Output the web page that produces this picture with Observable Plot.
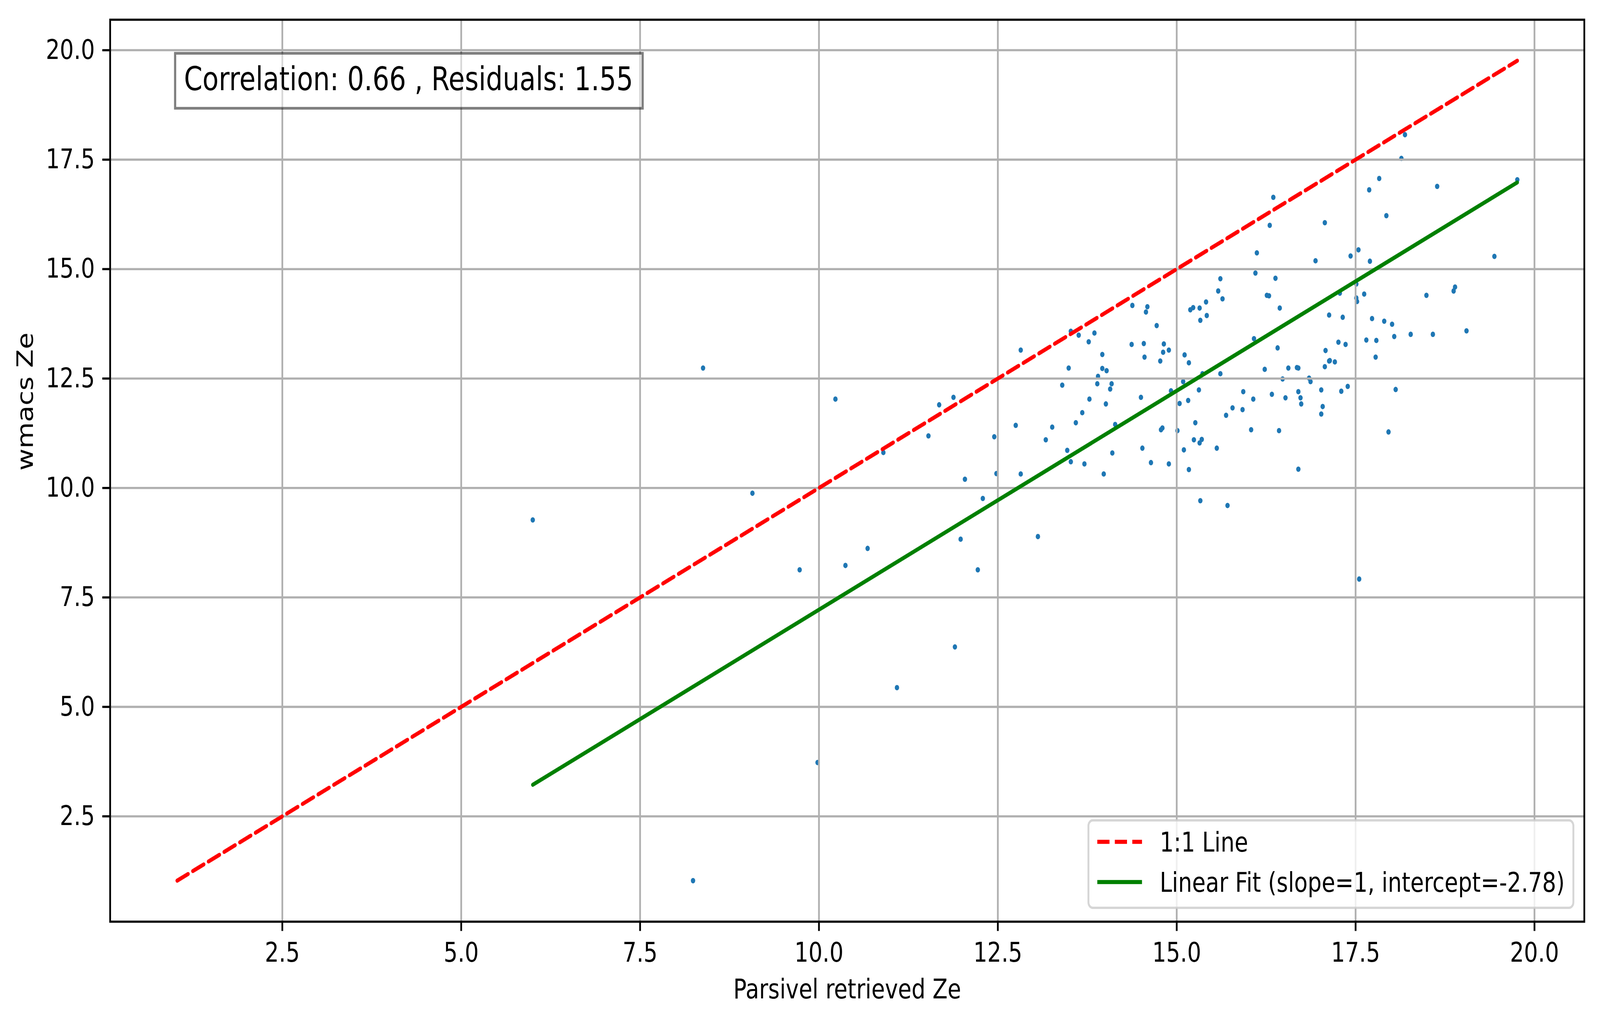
<!DOCTYPE html>
<html>
<head>
<meta charset="utf-8">
<script src="https://cdn.jsdelivr.net/npm/d3@7"></script>
<script src="https://cdn.jsdelivr.net/npm/@observablehq/plot@0.6"></script>
<style>
  html, body { margin: 0; padding: 0; background: #fff; overflow: hidden; width: 100%; height: 100%; }
  #chart { position: fixed; left: 0; top: 0; width: 100vw; height: 100vh; }
  #chart svg { display: block; width: 100vw !important; height: 100vh !important; max-width: none !important; }
</style>
</head>
<body>
<div id="chart"></div>
<script>
// ---- data ----
const parsivelZe = [
  12.82, 13.52, 13.63, 13.85, 13.77, 13.96, 13.49, 13.96, 14.02, 13.90, 13.89, 13.40, 13.78, 14.01, 13.68, 13.59, 13.26,
  12.75, 13.17, 13.47, 13.52, 13.71, 13.98, 12.82, 12.48, 12.04, 12.45, 11.53, 10.90, 11.68, 11.88, 12.29, 11.98, 13.06,
  8.38, 10.23, 9.07, 6.00,
  9.73, 10.37, 10.68, 12.22, 11.90, 11.09, 9.98, 8.24,
  16.35, 16.30, 17.07, 16.12, 16.94, 16.10, 15.61, 16.38, 15.58, 15.64, 16.26, 16.29, 16.44, 14.38, 14.59, 14.57, 14.72,
  15.19, 15.23, 15.32, 15.41, 15.42, 15.33, 17.13, 16.08, 16.41, 14.37, 14.54, 14.82, 14.89, 17.08,
  14.55, 14.77, 14.81, 15.11, 15.17, 17.13, 17.14, 17.07, 16.23, 16.56, 16.68, 16.70, 15.61, 15.36, 16.48, 16.85, 16.87,
  14.09, 14.07, 15.09, 15.31, 14.92, 14.50, 15.16, 15.04, 15.93, 16.07, 16.33, 16.52, 16.70, 16.73, 16.74, 17.02, 17.04,
  17.02, 15.78, 15.92, 15.69, 15.26, 16.04, 16.43, 14.14, 14.78, 14.80, 15.01, 15.24, 15.32, 15.35, 15.10, 15.56, 14.52,
  14.10, 14.64, 14.89, 15.17, 16.70, 15.33, 15.71,
  18.14, 17.83, 17.69, 18.64, 19.76, 17.93, 17.43, 17.54, 17.70, 19.44, 17.51, 17.28, 17.62, 17.51, 17.52, 18.49, 18.89,
  18.87, 17.32, 17.73, 17.90, 18.01, 19.05, 18.27, 18.58, 18.04, 17.26, 17.36, 17.65, 17.79,
  17.21, 17.78, 17.30, 17.39, 18.06, 17.96, 17.55,
  18.19
];
const wmacsZe = [
  13.15, 13.58, 13.49, 13.54, 13.34, 13.05, 12.74, 12.73, 12.68, 12.55, 12.38, 12.35, 12.03, 11.92, 11.72, 11.49, 11.39,
  11.43, 11.10, 10.86, 10.60, 10.55, 10.32, 10.32, 10.33, 10.20, 11.17, 11.19, 10.81, 11.90, 12.07, 9.76, 8.83, 8.89,
  12.74, 12.03, 9.88, 9.27,
  8.13, 8.23, 8.62, 8.13, 6.37, 5.44, 3.73, 1.03,
  16.64, 16.00, 16.06, 15.37, 15.19, 14.91, 14.78, 14.79, 14.50, 14.32, 14.40, 14.39, 14.11, 14.17, 14.14, 14.02, 13.71,
  14.07, 14.12, 14.11, 14.25, 13.94, 13.83, 13.95, 13.41, 13.20, 13.28, 13.30, 13.29, 13.15, 13.14,
  12.99, 12.90, 13.10, 13.04, 12.86, 12.90, 12.91, 12.77, 12.71, 12.74, 12.75, 12.74, 12.61, 12.61, 12.49, 12.51, 12.43,
  12.38, 12.26, 12.43, 12.24, 12.22, 12.07, 12.00, 11.93, 12.20, 12.03, 12.14, 12.06, 12.20, 12.06, 11.92, 12.24, 11.86,
  11.69, 11.83, 11.79, 11.66, 11.49, 11.33, 11.31, 11.45, 11.33, 11.37, 11.31, 11.10, 11.03, 11.11, 10.87, 10.91, 10.91,
  10.80, 10.58, 10.55, 10.42, 10.43, 9.71, 9.60,
  17.53, 17.07, 16.81, 16.89, 17.04, 16.22, 15.30, 15.44, 15.18, 15.29, 14.66, 14.45, 14.43, 14.34, 14.26, 14.40, 14.59,
  14.50, 13.90, 13.87, 13.81, 13.74, 13.59, 13.51, 13.51, 13.46, 13.33, 13.28, 13.38, 13.37,
  12.88, 12.99, 12.21, 12.32, 12.25, 11.28, 7.92,
  18.07
];
const xTicks = [2.5, 5, 7.5, 10, 12.5, 15, 17.5, 20];
const yTicks = [2.5, 5, 7.5, 10, 12.5, 15, 17.5, 20];
const fitSlope = 1;
const fitIntercept = -2.78;
const correlation = 0.66;
const residuals = 1.55;
const seriesLabels = ["1:1 Line", `Linear Fit (slope=${fitSlope}, intercept=${fitIntercept})`];
const seriesColors = ["red", "green"];
const xLabel = "Parsivel retrieved Ze";
const yLabel = "wmacs Ze";

// ---- derived tables ----
const points = parsivelZe.map((x, i) => ({x, y: wmacsZe[i]}));
const lo = Math.min(d3.min(parsivelZe), d3.min(wmacsZe));
const hi = Math.max(d3.max(parsivelZe), d3.max(wmacsZe));
const oneToOne = [lo, hi].map(v => ({x: v, y: v}));
const fitLine = [d3.min(parsivelZe), d3.max(parsivelZe)].map(x => ({x, y: fitSlope * x + fitIntercept}));
const pad = (hi - lo) * 0.05;
const domain = [lo - pad, hi + pad];

const W = 5048, H = 2620;
const mL = 347, mR = 50, mT = 50, mB = 260;
const FS = 69.5, FS_ANN = 83.5;
const LW = 10.4, THIN = 5.56;
const DASH = "38.5,16.7";
const fmt = d3.format(".1f");

const chart = Plot.plot({
  width: W, height: H,
  marginLeft: mL, marginRight: mR, marginTop: mT, marginBottom: mB,
  style: {fontFamily: "'DejaVu Sans', sans-serif", fontSize: FS + "px", color: "#000", background: "#fff"},
  x: {domain, label: null},
  y: {domain, label: null},
  marks: [
    Plot.dot(points, {x: "x", y: "y", r: 6.9, fill: "#1f77b4", stroke: "none"}),
    Plot.gridX(xTicks, {stroke: "#b0b0b0", strokeOpacity: 1, strokeWidth: THIN}),
    Plot.gridY(yTicks, {stroke: "#b0b0b0", strokeOpacity: 1, strokeWidth: THIN}),
    Plot.line(oneToOne, {x: "x", y: "y", stroke: seriesColors[0], strokeWidth: LW, strokeDasharray: DASH}),
    Plot.line(fitLine, {x: "x", y: "y", stroke: seriesColors[1], strokeWidth: LW, strokeLinecap: "round"}),
    Plot.frame({stroke: "#000", strokeWidth: THIN}),
    Plot.axisX(xTicks, {tickFormat: fmt, tickSize: 24.3, tickPadding: 29, strokeWidth: THIN, fontSize: FS, label: null}),
    Plot.axisY(yTicks, {tickFormat: fmt, tickSize: 24.3, tickPadding: 24, strokeWidth: THIN, fontSize: FS, label: null}),
    Plot.text([xLabel], {frameAnchor: "bottom", lineAnchor: "bottom", dy: 196, fontSize: FS}),
    Plot.text([yLabel], {frameAnchor: "left", lineAnchor: "bottom", rotate: -90, dx: -244, fontSize: FS}),
    Plot.text([`Correlation: ${correlation.toFixed(2)} , Residuals: ${residuals.toFixed(2)}`],
      {frameAnchor: "top-left", textAnchor: "start", lineAnchor: "bottom", dx: 233, dy: 180, fontSize: FS_ANN})
  ]
});

// the photographed viewport may be narrower than 5048 px: keep the 5048x2620 layout and fit it to the window
chart.setAttribute("viewBox", `0 0 ${W} ${H}`);
chart.setAttribute("preserveAspectRatio", "none");
document.getElementById("chart").appendChild(chart);

// ---- annotation box (behind the correlation text) ----
const annText = Array.from(chart.querySelectorAll("text")).find(e => e.textContent.startsWith("Correlation"));
if (annText) {
  const bb = annText.getBBox();
  const rect = document.createElementNS("http://www.w3.org/2000/svg", "rect");
  rect.setAttribute("x", bb.x - 28);
  rect.setAttribute("y", bb.y - 16);
  rect.setAttribute("width", bb.width + 58);
  rect.setAttribute("height", bb.height + 43);
  rect.setAttribute("fill", "#fff");
  rect.setAttribute("fill-opacity", 0.5);
  rect.setAttribute("stroke", "#000");
  rect.setAttribute("stroke-opacity", 0.5);
  rect.setAttribute("stroke-width", 6.9);
  const tr = annText.getAttribute("transform");
  if (tr) rect.setAttribute("transform", tr);
  annText.parentNode.insertBefore(rect, annText);
}

// ---- legend (lower right, inside the axes) ----
const lgW = 1530, lgH = 224;
const lgX = W - mR - 34 - lgW, lgY = H - mB - 35 - lgH;
const lg = d3.select(chart).append("g")
  .attr("font-family", "'DejaVu Sans', sans-serif")
  .attr("font-size", FS)
  .attr("text-anchor", "start");
lg.append("rect")
  .attr("x", lgX).attr("y", lgY).attr("width", lgW).attr("height", lgH)
  .attr("rx", 14).attr("ry", 14)
  .attr("fill", "#fff").attr("fill-opacity", 0.8)
  .attr("stroke", "#cccccc").attr("stroke-opacity", 0.8).attr("stroke-width", 6);
seriesLabels.forEach((label, i) => {
  const cy = lgY + 55 + i * 103;
  lg.append("line")
    .attr("x1", lgX + 28).attr("x2", lgX + 169)
    .attr("y1", cy).attr("y2", cy)
    .attr("stroke", seriesColors[i]).attr("stroke-width", LW)
    .attr("stroke-dasharray", i === 0 ? DASH : null);
  lg.append("text")
    .attr("x", lgX + 225).attr("y", cy + 25)
    .attr("text-anchor", "start")
    .attr("fill", "#000")
    .text(label);
});
</script>
</body>
</html>
